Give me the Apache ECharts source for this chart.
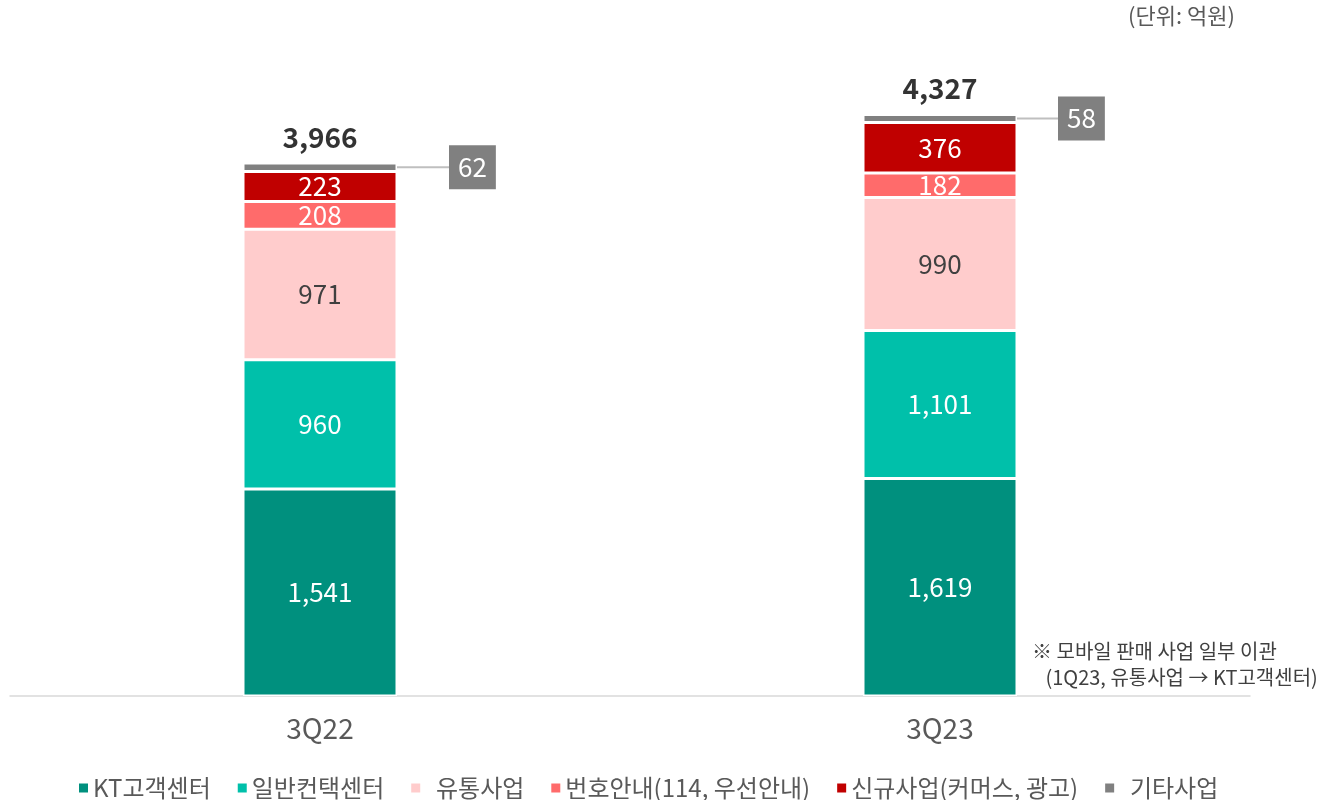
<!DOCTYPE html>
<html>
<head>
<meta charset="utf-8">
<script src="https://cdn.jsdelivr.net/npm/echarts@6/dist/echarts.min.js"></script>
<style>
  html, body { margin: 0; padding: 0; background: #fff; }
  #chart { width: 1324px; height: 800px; }
</style>
</head>
<body>
<div id="chart"></div>
<script>
var categories = ["3Q22", "3Q23"];
var ktCenter = [1541, 1619];
var generalContact = [960, 1101];
var distribution = [971, 990];
var numberGuide = [208, 182];
var newBusiness = [223, 376];
var otherBusiness = [62, 58];
var totals = [3966, 4327];

var FONT = "Noto Sans CJK KR";
var chart = echarts.init(document.getElementById("chart"));

function fmt(v) {
  return v.toLocaleString("en-US");
}

function segment(name, data, color, textColor) {
  return {
    name: name,
    type: "bar",
    stack: "total",
    barWidth: 154,
    data: data,
    itemStyle: { color: color, borderColor: "#fff", borderWidth: 1.5 },
    label: {
      show: true,
      position: "inside",
      color: textColor,
      fontSize: 26,
      fontFamily: FONT,
      formatter: function (p) { return fmt(p.value); }
    },
    emphasis: { disabled: true }
  };
}

var series = [
  segment("KT고객센터", ktCenter, "#00907E", "#fff"),
  segment("일반컨택센터", generalContact, "#00C0AA", "#fff"),
  segment("유통사업", distribution, "#FFCCCC", "#404040"),
  segment("번호안내(114, 우선안내)", numberGuide, "#FF6B6B", "#fff"),
  segment("신규사업(커머스, 광고)", newBusiness, "#C00000", "#fff")
];

// 기타사업: 막대 옆 회색 박스 라벨 + 연결선
var other = segment("기타사업", otherBusiness, "#808080", "#fff");
other.label = {
  show: true,
  position: "right",
  distance: 0,
  color: "#fff",
  fontSize: 26,
  fontFamily: FONT,
  backgroundColor: "#808080",
  padding: [7, 9, 7, 9],
  lineHeight: 30
};
other.labelLayout = function (p) {
  return { dx: p.dataIndex === 0 ? 52 : 41 };
};
other.labelLine = { show: true, lineStyle: { color: "#bfbfbf", width: 2 } };
series.push(other);

series.push({
  name: "합계",
  type: "scatter",
  data: totals,
  symbolSize: 0,
  label: {
    show: true,
    position: "top",
    distance: 12,
    color: "#000",
    fontSize: 28,
    fontWeight: "bold",
    fontFamily: FONT,
    formatter: function (p) { return fmt(p.value); }
  },
  emphasis: { disabled: true }
});

var option = {
  animation: false,
  textStyle: { fontFamily: FONT },
  grid: { left: 10, right: 74, top: 24, bottom: 104 },
  xAxis: {
    type: "category",
    data: categories,
    axisLine: { lineStyle: { color: "#d9d9d9", width: 1.5 } },
    axisTick: { show: false },
    axisLabel: { color: "#595959", fontSize: 28, margin: 18, fontFamily: FONT }
  },
  yAxis: {
    type: "value",
    min: 0,
    max: 5000,
    show: false
  },
  legend: {
    data: ["KT고객센터", "일반컨택센터", "유통사업", "번호안내(114, 우선안내)", "신규사업(커머스, 광고)", "기타사업"],
    top: 771,
    left: 72,
    icon: "rect",
    itemWidth: 11,
    itemHeight: 11,
    itemGap: 25,
    formatter: function (name) {
      return (name === "유통사업" || name === "기타사업") ? "  " + name : name;
    },
    textStyle: { color: "#595959", fontSize: 24, fontFamily: FONT, padding: [0, 0, 0, -1] }
  },
  graphic: [
    {
      type: "text",
      right: 89,
      top: 5,
      style: { text: "(단위: 억원)", fill: "#595959", font: "22px '" + FONT + "'" }
    },
    {
      type: "text",
      left: 1032,
      top: 638,
      style: {
        text: "※ 모바일 판매 사업 일부 이관\n   (1Q23, 유통사업 → KT고객센터)",
        fill: "#404040",
        font: "20px '" + FONT + "'",
        lineHeight: 26
      }
    }
  ],
  series: series
};

chart.setOption(option);
window.addEventListener("resize", function () { chart.resize(); });
</script>
</body>
</html>
